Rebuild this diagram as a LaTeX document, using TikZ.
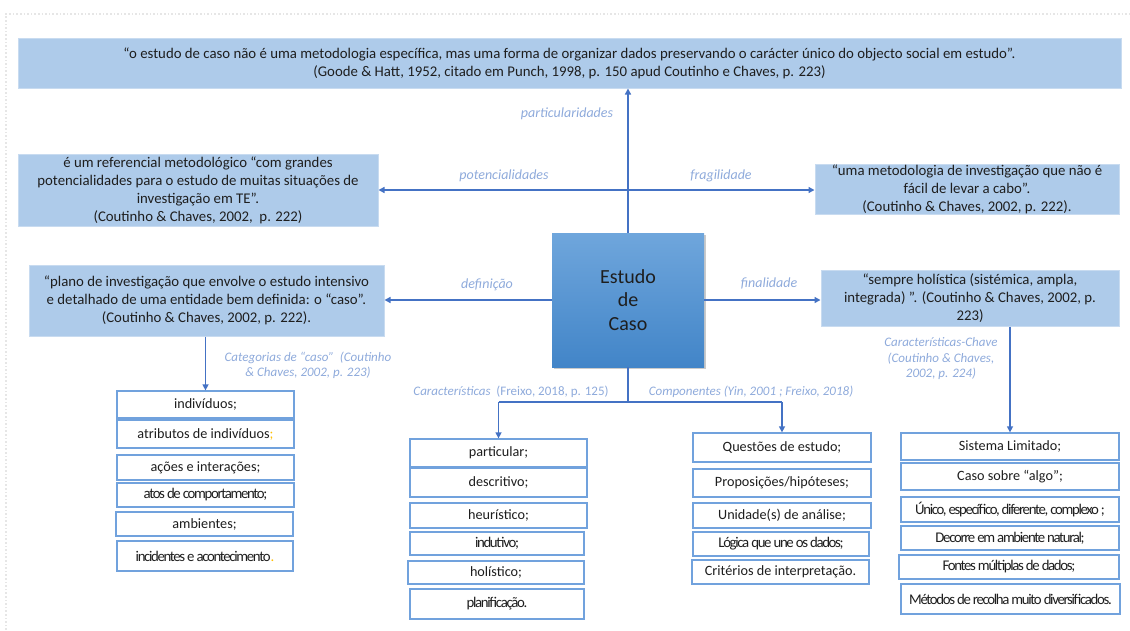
\documentclass[tikz,border=0pt]{standalone}
\usepackage{fontspec}
\setmainfont{Carlito}
\usetikzlibrary{arrows.meta,shadows,calc}
\definecolor{lineblue}{HTML}{4472C4}
\definecolor{lblblue}{HTML}{8EAADB}
\definecolor{boxfill}{HTML}{AECBEA}
\definecolor{boxedge}{HTML}{C8DBF0}
\definecolor{listedge}{HTML}{71A2DD}
\definecolor{ctop}{HTML}{6FA6DC}
\definecolor{cbot}{HTML}{4285C8}
\definecolor{accent}{HTML}{FFC000}
\definecolor{txt}{HTML}{1E1E1E}
\definecolor{frame}{HTML}{E6E6E6}
\begin{document}
\begin{tikzpicture}[x=1pt,y=-1pt,
  bluebox/.style={draw=boxedge, line width=1pt, fill=boxfill, align=center, inner sep=0pt, text=txt, font=\fontsize{14.8}{18}\selectfont},
  listbox/.style={draw=listedge, line width=1.3pt, fill=white, inner sep=0pt, text=txt, font=\fontsize{14.2}{16}\selectfont},
  cond/.style={font=\fontsize{14.8}{16}\selectfont\addfontfeature{LetterSpace=-9}},
  condx/.style={font=\fontsize{14.8}{16}\selectfont\addfontfeature{LetterSpace=-9}},
  lbl/.style={text=lblblue, font=\fontsize{14}{16}\selectfont\itshape, inner sep=0pt},
  slbl/.style={text=lblblue, font=\fontsize{13}{15.5}\selectfont\itshape, inner sep=0pt, align=center},
  conn/.style={draw=lineblue, line width=1.4pt},
  arr/.style={conn, -{Triangle[width=6pt,length=6pt]}},
]
\useasboundingbox (0,0) rectangle (1130,630);
% frame
\draw[frame, line width=1.6pt, dotted] (6,630) -- (6,14) -- (1130,14);

% main nodes
\node[bluebox, minimum width=1103pt, minimum height=50pt] (top) at (569.5,63)
  {“o estudo de caso não é uma metodologia específica, mas uma forma de organizar dados preservando o carácter único do objecto social em estudo”.\\(Goode \& Hatt, 1952, citado em Punch, 1998, p. 150 apud Coutinho e Chaves, p. 223)};
\node[bluebox, minimum width=360pt, minimum height=72pt] (pot) at (198,190)
  {é um referencial metodológico “com grandes\\potencialidades para o estudo de muitas situações de\\investigação em TE”.\\(Coutinho \& Chaves, 2002,\ \ p. 222)};
\node[bluebox, minimum width=355pt, minimum height=71pt] (def) at (206.5,300.5)
  {“plano de investigação que envolve o estudo intensivo\\e detalhado de uma entidade bem definida: o “caso”.\\(Coutinho \& Chaves, 2002, p. 222).};
\node[bluebox, minimum width=304pt, minimum height=50pt] (frag) at (967,189)
  {“uma metodologia de investigação que não é\\fácil de levar a cabo”.\\(Coutinho \& Chaves, 2002, p. 222).};
\node[bluebox, minimum width=298pt, minimum height=56pt] (fin) at (970,298)
  {“sempre holística (sistémica, ampla,\\integrada) ”. (Coutinho \& Chaves, 2002, p.\\223)};
\node[draw=none, minimum width=152pt, minimum height=134pt, top color=ctop, bottom color=cbot,
  drop shadow={shadow xshift=2pt, shadow yshift=-2pt, opacity=0.35, fill=black!60},
  align=center, text=txt, font=\fontsize{20}{23.5}\selectfont] (center) at (628,300)
  {Estudo\\de\\Caso};

% left list
\node[listbox, minimum width=177pt, minimum height=27pt] (a1) at (205.5,404.5) {indivíduos;};
\node[listbox, minimum width=177pt, minimum height=28pt] (a2) at (205.5,434) {atributos de indivíduos\textcolor{accent}{;}};
\node[listbox, minimum width=177pt, minimum height=25pt] (a3) at (205.5,467.5) {ações e interações;};
\node[listbox, cond, minimum width=177pt, minimum height=24pt] (a4) at (205.5,495) {atos de comportamento;};
\node[listbox, minimum width=177pt, minimum height=24pt] (a5) at (204.5,524) {ambientes;};
\node[listbox, condx, minimum width=176pt, minimum height=30pt] (a6) at (205,556) {incidentes e acontecimento\textcolor{accent}{.}};

% middle list
\node[listbox, minimum width=177pt, minimum height=28pt] (b1) at (498.5,453) {particular;};
\node[listbox, minimum width=177pt, minimum height=29pt] (b2) at (498.5,482.5) {descritivo;};
\node[listbox, minimum width=177pt, minimum height=25pt] (b3) at (498.5,515.5) {heurístico;};
\node[listbox, cond, minimum width=174pt, minimum height=23pt] (b4) at (497,543.5) {indutivo;};
\node[listbox, minimum width=176pt, minimum height=23pt] (b5) at (496,572.5) {holístico;};
\node[listbox, cond, minimum width=174pt, minimum height=30pt] (b6) at (497,604) {planificação.};

% components list
\node[listbox, minimum width=178pt, minimum height=29pt] (c1) at (782,447.5) {Questões de estudo;};
\node[listbox, minimum width=178pt, minimum height=28pt] (c2) at (782,483) {Proposições/hipóteses;};
\node[listbox, minimum width=178pt, minimum height=25pt] (c3) at (782,515.5) {Unidade(s) de análise;};
\node[listbox, cond, minimum width=176pt, minimum height=24pt] (c4) at (781,544) {Lógica que une os dados;};
\node[listbox, minimum width=177pt, minimum height=24pt] (c5) at (780.5,572) {Critérios de interpretação.};

% right list
\node[listbox, minimum width=218pt, minimum height=27pt] (d1) at (1010,446.5) {Sistema Limitado;};
\node[listbox, minimum width=218pt, minimum height=27pt] (d2) at (1010,476.5) {Caso sobre “algo”;};
\node[listbox, condx, minimum width=218pt, minimum height=25pt] (d3) at (1010,509.5) {Único, específico, diferente, complexo ;};
\node[listbox, cond, minimum width=218pt, minimum height=24pt] (d4) at (1010,538) {Decorre em ambiente natural;};
\node[listbox, cond, minimum width=220pt, minimum height=24pt] (d5) at (1009,567) {Fontes múltiplas de dados;};
\node[listbox, condx, minimum width=219pt, minimum height=30pt] (d6) at (1010.5,599) {Métodos de recolha muito diversificados.};

% junction coordinates
\coordinate (j1) at (628,190);
\coordinate (hy) at (628,402);

% connectors
\draw[arr] (center.north) -- (top.south -| center.north);
\draw[arr] (j1) -- (pot.east |- j1);
\draw[arr] (j1) -- (frag.west |- j1);
\draw[arr] (center.west) -- (def.east |- center.west);
\draw[arr] (center.east) -- (fin.west |- center.east);
\draw[arr] (def.south -| a1.north) -- (a1.north);
\draw[arr] (fin.south -| d1.north) -- (d1.north);
\draw[conn] (center.south) -- (hy);
\draw[conn] (b1.north |- hy) -- (c1.north |- hy);
\draw[arr] (b1.north |- hy) -- (b1.north);
\draw[arr] (c1.north |- hy) -- (c1.north);

% labels
\node[lbl] (lpart) at (567,114) {particularidades};
\node[lbl] (lpot) at (504,176) {potencialidades};
\node[lbl] (lfrag) at (721,176) {fragilidade};
\node[lbl] (ldef) at (487,285) {definição};
\node[lbl] (lfin) at (769,283) {finalidade};
\node[slbl] (lcat) at (308,365.5) {Categorias de “caso”\ \ (Coutinho\\\& Chaves, 2002, p. 223)};
\node[slbl] (lcar) at (511,392) {Características\ \ \upshape(Freixo, 2018, p. 125)};
\node[slbl] (lcomp) at (751,392) {Componentes (Yin, 2001 ; Freixo, 2018)};
\node[slbl] (lchave) at (941,359) {Características-Chave\\(Coutinho \& Chaves,\\2002, p. 224)};
\end{tikzpicture}
\end{document}
